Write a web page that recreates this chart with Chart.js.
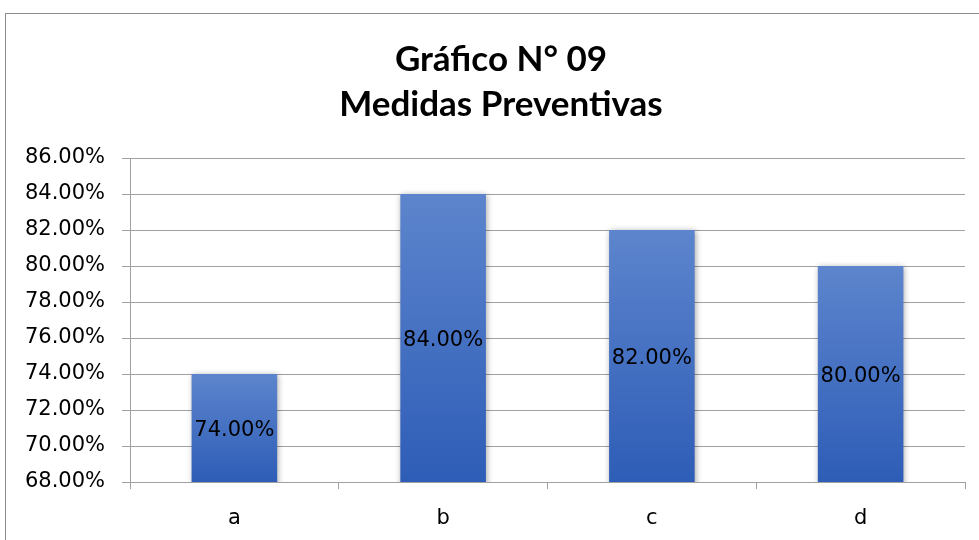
<!DOCTYPE html>
<html>
<head>
<meta charset="utf-8">
<script src="https://cdn.jsdelivr.net/npm/chart.js@4/dist/chart.umd.min.js"></script>
<style>
  html, body { margin: 0; padding: 0; background: #fff; overflow: hidden; }
  #frame { position: absolute; left: 5px; top: 13px; width: 1100px; height: 700px; border: 1px solid #8c8c8c; box-sizing: border-box; }
  #wrap { position: absolute; left: 0; top: 0; width: 979px; height: 540px; }
</style>
</head>
<body>
<div id="frame"></div>
<div id="wrap"><canvas id="c" width="979" height="540"></canvas></div>
<script>
const categories = ['a', 'b', 'c', 'd'];
const values = [74, 84, 82, 80];
const titleLines = ['Gráfico N° 09', 'Medidas Preventivas'];
const yMin = 68, yMax = 86, yStep = 2;

const fmt = v => Number(v).toFixed(2) + '%';

const barShadow = {
  id: 'barShadow',
  beforeDatasetsDraw(chart) {
    const c = chart.ctx;
    c.save();
    c.shadowColor = 'rgba(0,0,0,0.35)';
    c.shadowBlur = 6;
    c.shadowOffsetX = 1;
    c.shadowOffsetY = 1;
  },
  afterDatasetsDraw(chart) {
    chart.ctx.restore();
  }
};

const titleDraw = {
  id: 'titleDraw',
  afterDraw(chart) {
    const c = chart.ctx;
    c.save();
    c.font = 'bold 35px Lato';
    c.fillStyle = '#000';
    c.textAlign = 'center';
    c.textBaseline = 'middle';
    const cx = 501;
    c.fillText(titleLines[0], cx, 60);
    c.fillText(titleLines[1], cx, 105);
    c.restore();
  }
};

const barLabels = {
  id: 'barLabels',
  afterDraw(chart) {
    const c = chart.ctx;
    const xs = chart.scales.x, ys = chart.scales.y;
    c.save();
    c.shadowColor = 'rgba(0,0,0,0)';
    c.shadowBlur = 0;
    c.font = '21px "DejaVu Sans"';
    c.fillStyle = '#000000';
    c.textAlign = 'center';
    c.textBaseline = 'middle';
    values.forEach((v, i) => {
      const x = xs.getPixelForValue(i);
      const y = (ys.getPixelForValue(v) + ys.getPixelForValue(ys.min)) / 2;
      c.fillText(fmt(v), x, y + 3);
    });
    c.restore();
  }
};

new Chart(document.getElementById('c'), {
  type: 'bar',
  data: {
    labels: categories,
    datasets: [{
      data: values,
      backgroundColor: (ctx) => {
        const chart = ctx.chart;
        if (!chart.chartArea || ctx.type !== 'data') return '#4472c4';
        const y = chart.scales.y;
        const top = y.getPixelForValue(ctx.raw);
        const bottom = y.getPixelForValue(y.min);
        const g = chart.ctx.createLinearGradient(0, top, 0, bottom);
        g.addColorStop(0, '#5d85cd');
        g.addColorStop(1, '#2e5db7');
        return g;
      },
      borderWidth: 0,
      barPercentage: 0.82,
      categoryPercentage: 0.5
    }]
  },
  options: {
    responsive: false,
    animation: false,
    layout: { padding: { left: 0, right: 14, top: 158, bottom: 0 } },
    plugins: {
      legend: { display: false },
      tooltip: { enabled: false },
      title: { display: false }
    },
    scales: {
      x: {
        afterFit: (s) => { s.height = 58; },
        grid: { display: true, drawOnChartArea: false, drawTicks: true, tickLength: 7, color: '#a0a0a0', offset: true },
        border: { display: true, color: '#a0a0a0' },
        ticks: { color: '#000', font: { family: 'DejaVu Sans', size: 21 }, padding: 17 }
      },
      y: {
        min: yMin, max: yMax,
        afterFit: (s) => { s.width = 130; },
        grid: { color: '#a0a0a0', tickLength: 8 },
        border: { display: true, color: '#a0a0a0' },
        ticks: { stepSize: yStep, color: '#000', font: { family: 'DejaVu Sans', size: 21 }, padding: 17, callback: (v) => fmt(v) }
      }
    }
  },
  plugins: [barShadow, barLabels, titleDraw]
});
</script>
</body>
</html>
